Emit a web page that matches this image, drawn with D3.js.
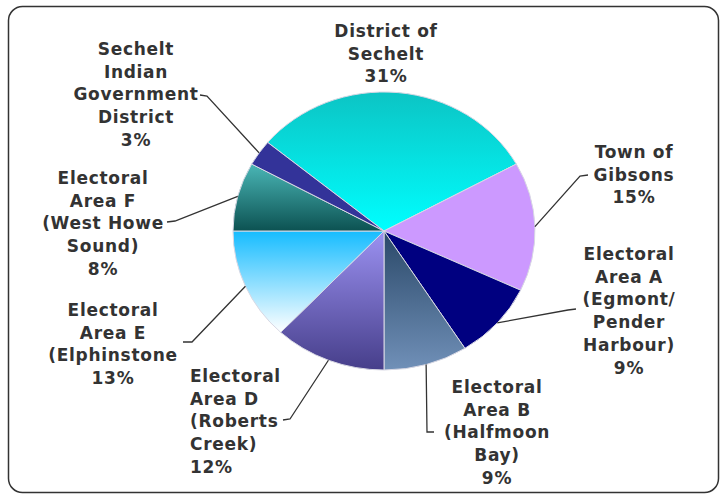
<!DOCTYPE html>
<html><head><meta charset="utf-8">
<script src="https://cdn.jsdelivr.net/npm/d3@7"></script>
<style>
html,body{margin:0;padding:0;background:#fff;}
svg{display:block;}
</style></head>
<body>
<svg id="chart" width="722" height="494"></svg>
<script>
// ---- data ----
const categories = [
  "District of Sechelt",
  "Town of Gibsons",
  "Electoral Area A (Egmont/ Pender Harbour)",
  "Electoral Area B (Halfmoon Bay)",
  "Electoral Area D (Roberts Creek)",
  "Electoral Area E (Elphinstone",
  "Electoral Area F (West Howe Sound)",
  "Sechelt Indian Government District"
];
const values = [31, 15, 9, 9, 12, 13, 8, 3];
const labelLines = [
  ["District of", "Sechelt"],
  ["Town of", "Gibsons"],
  ["Electoral", "Area A", "(Egmont/", "Pender", "Harbour)"],
  ["Electoral", "Area B", "(Halfmoon", "Bay)"],
  ["Electoral", "Area D", "(Roberts", "Creek)"],
  ["Electoral", "Area E", "(Elphinstone"],
  ["Electoral", "Area F", "(West Howe", "Sound)"],
  ["Sechelt", "Indian", "Government", "District"]
];

// ---- styles / layout ----
const fills = [
  {type:"lin", stops:["#0cc4c4", "#00ffff"]},
  {type:"solid", c:"#cc99ff"},
  {type:"solid", c:"#000080"},
  {type:"lin", stops:["#2a4868", "#7090b8"]},
  {type:"lin", stops:["#9c92f2", "#463e8a"]},
  {type:"lin", stops:["#16bcff", "#ffffff"]},
  {type:"lin", stops:["#4ab6b6", "#0c5252"]},
  {type:"solid", c:"#333399"}
];
const labelLayout = [
  {x:386, y:31, anchor:"middle", leader:null},
  {x:634, y:152, anchor:"middle", leader:[[580,176],[588,175]]},
  {x:629, y:254, anchor:"middle", leader:[[568,310],[576,309]]},
  {x:497, y:387, anchor:"middle", leader:[[427,432],[434,432]]},
  {x:190, y:376, anchor:"start", leader:[[290,419],[283,420]]},
  {x:113, y:310, anchor:"middle", leader:[[192,342],[183,342]]},
  {x:103, y:178, anchor:"middle", leader:[[175,221],[167,222]]},
  {x:136, y:49, anchor:"middle", leader:[[207,96],[200,95]]}
];
const W = 722, H = 494;
const cx = 384, cy = 231, rx = 151, ry = 139;
const lineH = 22.7;

const svg = d3.select("#chart");
const defs = svg.append("defs");

// frame
svg.append("rect").attr("x", 8.5).attr("y", 6.5).attr("width", 710).attr("height", 486)
  .attr("rx", 14).attr("fill", "#fff").attr("stroke", "#333").attr("stroke-width", 1.5);

// gradients
fills.forEach((f, i) => {
  if (f.type === "lin") {
    const g = defs.append("linearGradient").attr("id", "g" + i)
      .attr("x1", 0).attr("y1", 0).attr("x2", 0).attr("y2", 1);
    g.append("stop").attr("offset", "0%").attr("stop-color", f.stops[0]);
    g.append("stop").attr("offset", "100%").attr("stop-color", f.stops[1]);
  }
});
const fillOf = i => fills[i].type === "solid" ? fills[i].c : `url(#g${i})`;

// pie: first four slices end exactly at the bottom (pi)
const total = d3.sum(values);
const firstFour = d3.sum(values.slice(0, 4));
const start = Math.PI - firstFour / total * 2 * Math.PI;
const pie = d3.pie().sort(null).startAngle(start).endAngle(start + 2 * Math.PI);
const arcs = pie(values);
const arc = d3.arc().innerRadius(0).outerRadius(rx);

const pg = svg.append("g").attr("transform", `translate(${cx},${cy}) scale(1,${ry / rx})`);
pg.selectAll("path").data(arcs).join("path")
  .attr("d", arc)
  .attr("fill", (d, i) => fillOf(i))
  .attr("stroke", "#d8d8e4")
  .attr("stroke-width", 1)
  .attr("vector-effect", "non-scaling-stroke");

// leader lines
arcs.forEach((d, i) => {
  const L = labelLayout[i].leader;
  if (!L) return;
  const a = (d.startAngle + d.endAngle) / 2;
  const px = cx + rx * Math.sin(a), py = cy - ry * Math.cos(a);
  svg.append("polyline")
    .attr("points", [[px, py], L[0], L[1]].map(p => p.join(",")).join(" "))
    .attr("fill", "none").attr("stroke", "#333").attr("stroke-width", 1.3);
});

// labels
arcs.forEach((d, i) => {
  const lay = labelLayout[i];
  const lines = labelLines[i].concat([Math.round(values[i] / total * 100) + "%"]);
  const t = svg.append("text")
    .attr("font-family", "'DejaVu Sans', Verdana, sans-serif")
    .attr("font-weight", "bold").attr("font-size", 17)
    .attr("letter-spacing", 0.7)
    .attr("fill", "#333").attr("text-anchor", lay.anchor);
  lines.forEach((s, k) => {
    t.append("tspan").attr("x", lay.x).attr("y", lay.y + k * lineH + 6).text(s);
  });
});
</script>
</body></html>
